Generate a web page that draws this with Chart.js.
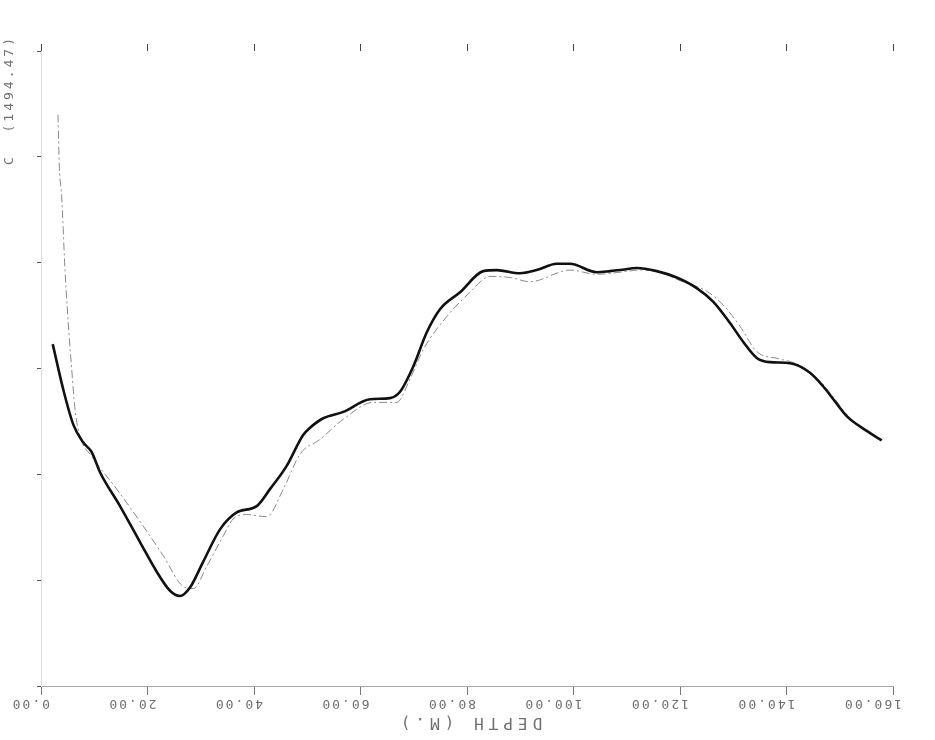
<!DOCTYPE html>
<html>
<head>
<meta charset="utf-8">
<title>Depth profile</title>
<script src="https://cdn.jsdelivr.net/npm/chart.js@4.4.1/dist/chart.umd.min.js"></script>
<style>
  html, body { margin: 0; padding: 0; background: #fff; }
  #wrap { width: 935px; height: 740px; }
</style>
</head>
<body>
<div id="wrap"><canvas id="profileChart" width="935" height="740"></canvas></div>
<script>
// depth (m) and profile values (y in grid units, 0..6)
const depthThick = [2.2, 4.19, 6.07, 7.94, 9.52, 11.08, 14.84, 18.59, 21.73, 24.23, 26.1, 27.98, 30.42, 33.62, 36.75, 40.51, 43.0, 46.14, 49.2, 50.52, 53.0, 56.77, 61.79, 65.54, 67.42, 69.92, 72.43, 74.93, 78.69, 83.06, 85.58, 89.95, 93.09, 96.84, 99.34, 104.36, 106.85, 108.73, 111.87, 115.63, 119.38, 123.14, 126.26, 129.39, 131.89, 134.41, 136.9, 140.66, 144.41, 146.91, 148.79, 151.31, 155.07, 157.88];
const valueThick = [3.23, 2.8, 2.47, 2.3, 2.21, 2.02, 1.7, 1.36, 1.08, 0.9, 0.85, 0.93, 1.17, 1.48, 1.64, 1.7, 1.86, 2.08, 2.37, 2.44, 2.53, 2.59, 2.71, 2.72, 2.78, 3.02, 3.34, 3.56, 3.72, 3.92, 3.93, 3.9, 3.93, 3.99, 3.99, 3.91, 3.92, 3.93, 3.95, 3.92, 3.86, 3.76, 3.63, 3.43, 3.25, 3.1, 3.06, 3.05, 2.96, 2.83, 2.71, 2.55, 2.41, 2.32];

const depthThin = [3.19, 3.44, 3.89, 4.51, 5.31, 5.77, 6.39, 7.32, 9.52, 14.22, 19.21, 22.97, 26.72, 28.6, 31.12, 34.24, 36.11, 38.63, 42.38, 45.5, 48.64, 52.39, 56.77, 62.4, 66.8, 69.3, 71.8, 76.19, 80.56, 84.32, 88.08, 91.83, 99.34, 104.36, 108.73, 112.49, 116.24, 120.0, 125.0, 128.12, 131.26, 134.41, 138.78, 142.54, 146.29, 149.11, 151.93, 155.31, 157.94];
const valueThin = [5.4, 4.91, 4.62, 3.93, 3.29, 2.99, 2.61, 2.36, 2.17, 1.86, 1.51, 1.23, 0.94, 0.92, 1.13, 1.42, 1.58, 1.62, 1.6, 1.86, 2.19, 2.33, 2.52, 2.68, 2.68, 2.9, 3.18, 3.49, 3.72, 3.87, 3.86, 3.82, 3.93, 3.89, 3.91, 3.93, 3.91, 3.83, 3.73, 3.6, 3.4, 3.16, 3.09, 3.03, 2.88, 2.71, 2.53, 2.4, 2.32];

const depthTicks = [0, 20, 40, 60, 80, 100, 120, 140, 160];
const depthTickLabels = ["0.00", "20.00", "40.00", "60.00", "80.00", "100.00", "120.00", "140.00", "160.00"];

document.addEventListener("DOMContentLoaded", function () {
  const ctx = document.getElementById("profileChart").getContext("2d");

  function toPoints(xs, ys) {
    return xs.map((x, i) => ({ x: x, y: ys[i] }));
  }

  // the old plot has its axis text printed upside down
  const flippedText = {
    id: "flippedText",
    afterDraw(chart) {
      const c = chart.ctx;
      const xScale = chart.scales.x;
      c.save();
      c.fillStyle = "#707070";
      c.textBaseline = "middle";

      c.font = "13px 'DejaVu Sans Mono'";
      c.letterSpacing = "2px";
      c.textAlign = "left";
      depthTicks.forEach((v, i) => {
        const px = xScale.getPixelForValue(v);
        c.save();
        c.translate(px + 9, 703);
        c.rotate(Math.PI);
        c.fillText(depthTickLabels[i], 0, 0);
        c.restore();
      });

      c.font = "16px 'DejaVu Sans Mono'";
      c.letterSpacing = "5px";
      c.textAlign = "center";
      c.save();
      c.translate(469, 722);
      c.rotate(Math.PI);
      c.fillText("DEPTH (M.)", 0, 0);
      c.restore();

      c.font = "13px 'DejaVu Sans Mono'";
      c.letterSpacing = "3px";
      c.save();
      c.translate(10, 100);
      c.rotate(-Math.PI / 2);
      c.fillText("C  (1494.47)", 0, 0);
      c.restore();

      c.restore();
    },
  };

  new Chart(ctx, {
    type: "line",
    data: {
      datasets: [
        {
          label: "profile",
          data: toPoints(depthThick, valueThick),
          borderColor: "#111",
          borderWidth: 2.6,
          pointRadius: 0,
          cubicInterpolationMode: "monotone",
        },
        {
          label: "reference",
          data: toPoints(depthThin, valueThin),
          borderColor: "#8a8a8a",
          borderWidth: 1,
          borderDash: [8, 3, 2, 3],
          pointRadius: 0,
          cubicInterpolationMode: "monotone",
        },
      ],
    },
    options: {
      responsive: false,
      animation: false,
      devicePixelRatio: 1,
      layout: { padding: { right: 42 } },
      plugins: {
        legend: { display: false },
        tooltip: { enabled: false },
      },
      scales: {
        x: {
          type: "linear",
          position: "bottom",
          min: 0,
          max: 160,
          ticks: { display: false, stepSize: 20 },
          grid: { drawOnChartArea: false, tickLength: 9, color: "#777" },
          border: { display: true, color: "#a8a8a8", dash: [12, 6] },
          afterFit: (s) => { s.height = 54; },
        },
        xTop: {
          type: "linear",
          position: "top",
          min: 0,
          max: 160,
          ticks: { display: false, stepSize: 20 },
          grid: { drawOnChartArea: false, tickLength: 7, color: "#444" },
          border: { display: false },
          afterFit: (s) => { s.height = 51; },
        },
        y: {
          min: 0,
          max: 6,
          ticks: { display: false, stepSize: 1 },
          grid: { drawOnChartArea: false, tickLength: 4, color: "#555" },
          border: { display: true, color: "#dddddd", dash: [2, 8] },
          afterFit: (s) => { s.width = 41; },
        },
      },
    },
    plugins: [flippedText],
  });
});
</script>
</body>
</html>
